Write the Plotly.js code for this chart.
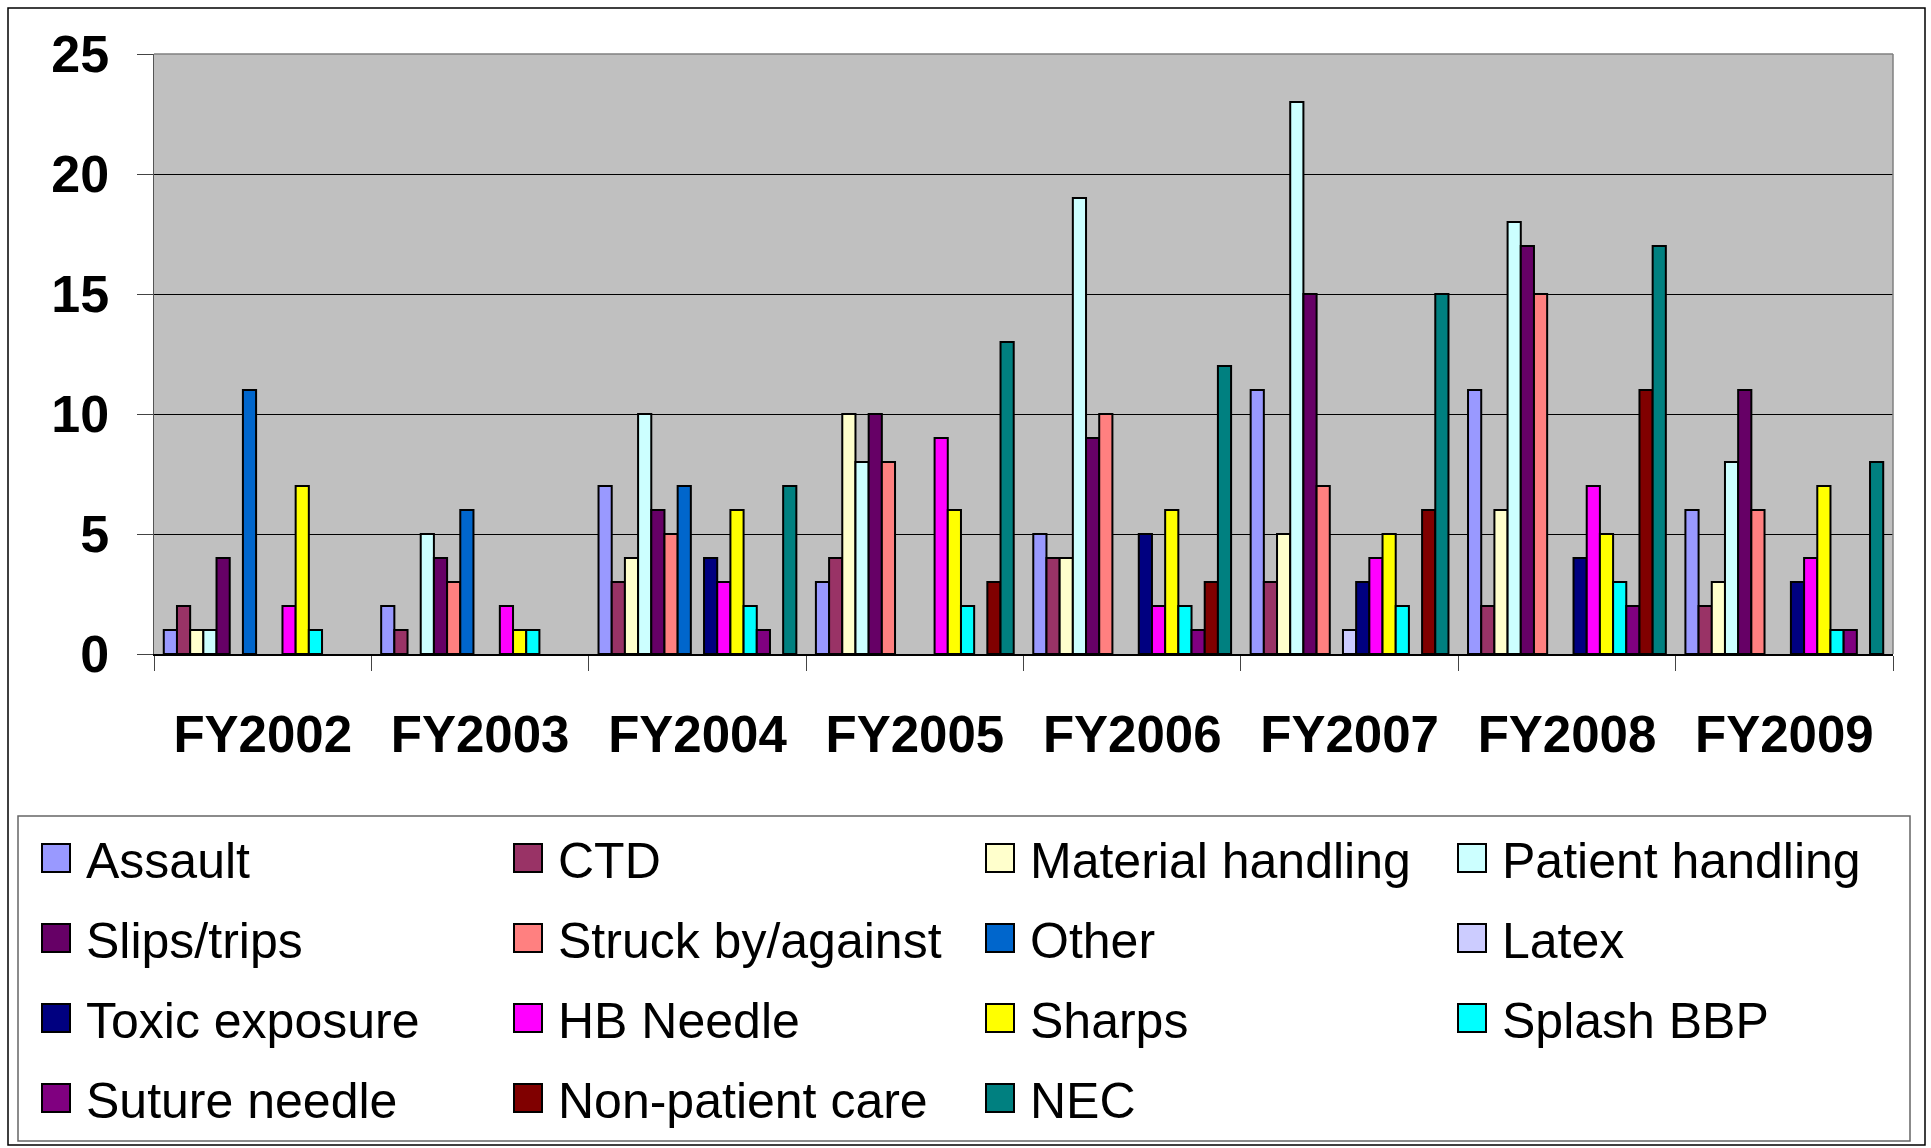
<!DOCTYPE html>
<html><head><meta charset="utf-8">
<script src="https://cdn.plot.ly/plotly-3.0.1.min.js"></script>
<style>html,body{margin:0;padding:0;background:#fff;overflow:hidden;} #chart{width:1931px;height:1148px;}</style>
</head><body><div id="chart"></div>
<script>
// ---- data ----
const years = ['FY2002','FY2003','FY2004','FY2005','FY2006','FY2007','FY2008','FY2009'];
const seriesNames = ['Assault','CTD','Material handling','Patient handling','Slips/trips','Struck by/against','Other','Latex','Toxic exposure','HB Needle','Sharps','Splash BBP','Suture needle','Non-patient care','NEC'];
const seriesColors = ['#9999FF','#993366','#FFFFCC','#CCFFFF','#660066','#FF8080','#0066CC','#CCCCFF','#000080','#FF00FF','#FFFF00','#00FFFF','#800080','#800000','#008080'];
const assault          = [1, 2, 7, 3, 5, 11, 11, 6];
const ctd              = [2, 1, 3, 4, 4, 3, 2, 2];
const materialHandling = [1, 0, 4, 10, 4, 5, 6, 3];
const patientHandling  = [1, 5, 10, 8, 19, 23, 18, 8];
const slipsTrips       = [4, 4, 6, 10, 9, 15, 17, 11];
const struckBy         = [0, 3, 5, 8, 10, 7, 15, 6];
const other            = [11, 6, 7, 0, 0, 0, 0, 0];
const latex            = [0, 0, 0, 0, 0, 1, 0, 0];
const toxicExposure    = [0, 0, 4, 0, 5, 3, 4, 3];
const hbNeedle         = [2, 2, 3, 9, 2, 4, 7, 4];
const sharps           = [7, 1, 6, 6, 6, 5, 5, 7];
const splashBBP        = [1, 1, 2, 2, 2, 2, 3, 1];
const sutureNeedle     = [0, 0, 1, 0, 1, 0, 2, 1];
const nonPatientCare   = [0, 0, 0, 3, 3, 6, 11, 0];
const nec              = [0, 0, 7, 13, 12, 15, 17, 8];
const seriesValues = [assault, ctd, materialHandling, patientHandling, slipsTrips, struckBy, other, latex, toxicExposure, hbNeedle, sharps, splashBBP, sutureNeedle, nonPatientCare, nec];
const yTicks = [0, 5, 10, 15, 20, 25];

// ---- layout geometry (pixels) ----
const L = 154, T = 54, W = 1739, H = 600;
const px = x => (x - L) / W;
const py = y => (T + H - y) / H;
const FONT = 'Liberation Sans, Arial, sans-serif';

const traces = seriesNames.map((name, i) => {
  const row = Math.floor(i / 4);
  return {
    type: 'bar', name: name, x: years, y: seriesValues[i],
    marker: {color: seriesColors[i], line: {color: '#000', width: seriesValues[i].map(v => v ? 2 : 0)}},
    legend: row === 0 ? 'legend' : 'legend' + (row + 1),
    hoverinfo: 'name+y'
  };
});

const layout = {
  width: 1931, height: 1148,
  margin: {l: L, r: 1931 - L - W, t: T, b: 1148 - T - H, autoexpand: false},
  paper_bgcolor: '#fff', plot_bgcolor: '#C0C0C0',
  barmode: 'group', bargap: 0.09, bargroupgap: 0,
  font: {family: FONT, color: '#000'},
  xaxis: {
    type: 'category', showline: true, linecolor: '#000', linewidth: 1.5,
    ticks: 'outside', tickson: 'boundaries', ticklen: 15, tickcolor: '#444', tickwidth: 1,
    ticklabelstandoff: 35,
    tickfont: {family: FONT, size: 51, weight: 700, color: '#000'},
    showgrid: false, zeroline: false, fixedrange: true
  },
  yaxis: {
    range: [0, 25], tickvals: yTicks, ticktext: yTicks.map(String),
    showline: true, linecolor: '#555', linewidth: 1.5,
    ticks: 'outside', ticklen: 16, tickcolor: '#444', tickwidth: 1,
    ticklabelstandoff: 17,
    tickfont: {family: FONT, size: 52, weight: 700, color: '#000'},
    showgrid: true, gridcolor: '#000', gridwidth: 1, zeroline: false, fixedrange: true
  },
  showlegend: true,
  shapes: [
    {type: 'rect', xref: 'paper', yref: 'paper', x0: px(8), x1: px(1925), y0: py(1145), y1: py(8), line: {color: '#000', width: 1.5}},
    {type: 'rect', xref: 'paper', yref: 'paper', x0: px(18), x1: px(1910), y0: py(1141), y1: py(816), line: {color: '#666', width: 1.5}},
    {type: 'line', xref: 'paper', yref: 'paper', x0: 0, x1: 1, y0: 1, y1: 1, line: {color: '#808080', width: 1.5}, layer: 'above'},
    {type: 'line', xref: 'paper', yref: 'paper', x0: 1, x1: 1, y0: 0, y1: 1, line: {color: '#808080', width: 1.5}, layer: 'above'}
  ]
};

const legendRowY = [858, 938, 1018, 1098];
legendRowY.forEach((yy, r) => {
  layout[r === 0 ? 'legend' : 'legend' + (r + 1)] = {
    orientation: 'h', x: px(26), xanchor: 'left', y: py(yy), yanchor: 'middle',
    entrywidth: 407, entrywidthmode: 'pixels', itemwidth: 50,
    font: {family: FONT, size: 50, color: '#000'},
    bgcolor: 'rgba(0,0,0,0)', borderwidth: 0, traceorder: 'normal'
  };
});

Plotly.newPlot('chart', traces, layout, {displayModeBar: false, staticPlot: true}).then(() => {
  document.querySelectorAll('g.legendpoints path').forEach(p => {
    p.setAttribute('d', 'M14,14H-14V-14H14Z');
    p.style.stroke = '#000';
    p.style.strokeOpacity = '1';
    p.style.strokeWidth = '2px';
  });
});
</script>
</body></html>
